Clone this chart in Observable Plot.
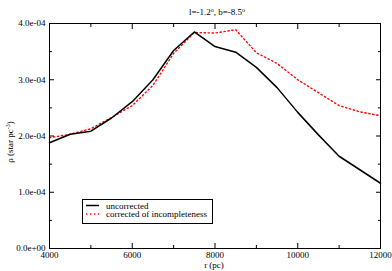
<!DOCTYPE html>
<html><head><meta charset="utf-8">
<script src="https://cdn.jsdelivr.net/npm/d3@7"></script>
<script src="https://cdn.jsdelivr.net/npm/@observablehq/plot@0.6"></script>
<style>
html,body{margin:0;padding:0;background:#fff}
svg, svg text { font-family: "Liberation Serif", "Times New Roman", Times, serif !important; }
</style>
</head><body><div id="chart"></div>
<script>
const r = [4000,4500,5000,5500,6000,6500,7000,7500,8000,8500,9000,9500,10000,10500,11000,11500,12000];
const uncorrected = [1.88e-4,2.03e-4,2.085e-4,2.32e-4,2.61e-4,3.0e-4,3.52e-4,3.85e-4,3.59e-4,3.49e-4,3.22e-4,2.86e-4,2.42e-4,2.02e-4,1.64e-4,1.40e-4,1.16e-4];
const corrected = [1.97e-4,2.03e-4,2.13e-4,2.33e-4,2.54e-4,2.9e-4,3.47e-4,3.84e-4,3.83e-4,3.89e-4,3.48e-4,3.29e-4,3.0e-4,2.77e-4,2.54e-4,2.43e-4,2.36e-4];
const seriesNames = ["uncorrected","corrected of incompleteness"];
const xMajor = [4000,6000,8000,10000,12000];
const xMinor = [5000,7000,9000,11000];
const yMajor = [0,1e-4,2e-4,3e-4,4e-4];
const yMinor = [0.5e-4,1.5e-4,2.5e-4,3.5e-4];

const fmt = d => {
  const [m, e] = d.toExponential(1).split("e");
  const s = e[0] === "-" ? "-" : "+";
  return `${m}e${s}${String(Math.abs(+e)).padStart(2,"0")}`;
};

const rowsU = r.map((x,i) => ({r:x, rho:uncorrected[i]}));
const rowsC = r.map((x,i) => ({r:x, rho:corrected[i]}));

const svg = Plot.plot({
  width: 392, height: 271,
  marginLeft: 49, marginRight: 12, marginTop: 23, marginBottom: 23,
  style: {fontFamily:"Liberation Serif, serif", fontSize:"9px", background:"#fff", color:"#000", overflow:"visible"},
  x: {domain:[4000,12000]},
  y: {domain:[0,4e-4]},
  marks: [
    Plot.line(rowsC, {x:"r", y:"rho", stroke:"#ff0000", strokeWidth:1.4, strokeDasharray:"1.3,2.7"}),
    Plot.line(rowsU, {x:"r", y:"rho", stroke:"#000", strokeWidth:1.5}),
    Plot.axisX({anchor:"bottom", ticks:xMajor, tickSize:0, tickPadding:3, tickFormat:d=>String(d), label:null}),
    Plot.axisX({anchor:"bottom", ticks:xMajor, tickSize:-5, text:null, label:null}),
    Plot.axisX({anchor:"bottom", ticks:xMinor, tickSize:-3, text:null, label:null}),
    Plot.axisX({anchor:"top", ticks:xMajor, tickSize:-5, text:null, label:null}),
    Plot.axisX({anchor:"top", ticks:xMinor, tickSize:-3, text:null, label:null}),
    Plot.axisY({anchor:"left", ticks:yMajor, tickSize:0, tickPadding:4, tickFormat:fmt, label:null}),
    Plot.axisY({anchor:"left", ticks:yMajor, tickSize:-5, text:null, label:null}),
    Plot.axisY({anchor:"left", ticks:yMinor, tickSize:-3, text:null, label:null}),
    Plot.axisY({anchor:"right", ticks:yMajor, tickSize:-5, text:null, label:null}),
    Plot.axisY({anchor:"right", ticks:yMinor, tickSize:-3, text:null, label:null}),
    Plot.frame({stroke:"#000", strokeWidth:1})
  ]
});

const s = d3.select(svg);
const addText = (x, y, anchor) => s.append("text").attr("x",x).attr("y",y)
  .attr("text-anchor",anchor).attr("font-size",9).attr("fill","#000");
// title
const t = addText(217, 15, "middle");
t.append("tspan").text("l=-1.2");
t.append("tspan").attr("dy",-3.5).attr("font-size",6).text("o");
t.append("tspan").attr("dy",3.5).text(", b=-8.5");
t.append("tspan").attr("dy",-3.5).attr("font-size",6).text("o");
// x label
addText(214, 268, "middle").text("r (pc)");
// y label
const yl = s.append("text").attr("transform","translate(13,142) rotate(-90)")
  .attr("text-anchor","middle").attr("font-size",9).attr("fill","#000");
yl.append("tspan").text("ρ (star pc");
yl.append("tspan").attr("dy",-3.5).attr("font-size",6).text("-3");
yl.append("tspan").attr("dy",3.5).text(")");
// legend
const lg = s.append("g");
lg.append("rect").attr("x",82.5).attr("y",199.5).attr("width",130).attr("height",24)
  .attr("fill","#fff").attr("stroke","#000").attr("stroke-width",1);
lg.append("line").attr("x1",86).attr("x2",99).attr("y1",205.5).attr("y2",205.5)
  .attr("stroke","#000").attr("stroke-width",1.5);
lg.append("line").attr("x1",86).attr("x2",99).attr("y1",214).attr("y2",214)
  .attr("stroke","#ff0000").attr("stroke-width",1.4).attr("stroke-dasharray","1.3,2.7");
lg.append("text").attr("x",106).attr("y",208.5).attr("text-anchor","start").attr("font-size",9).attr("fill","#000").text(seriesNames[0]);
lg.append("text").attr("x",106).attr("y",217).attr("text-anchor","start").attr("font-size",9).attr("fill","#000").text(seriesNames[1]);

document.getElementById("chart").appendChild(svg);
</script>
</body></html>
